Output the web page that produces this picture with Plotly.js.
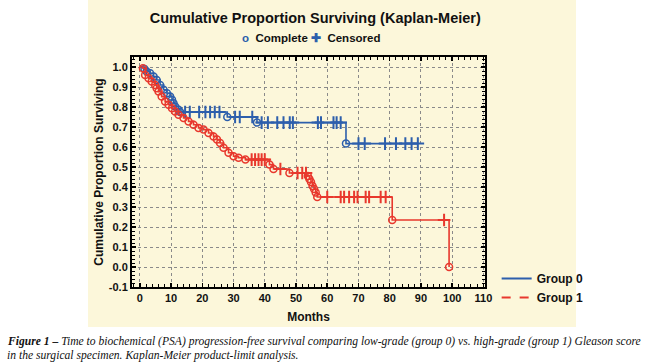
<!DOCTYPE html>
<html>
<head>
<meta charset="utf-8">
<script src="https://cdn.plot.ly/plotly-3.0.1.min.js"></script>
<style>html,body{margin:0;padding:0;background:#fff;}#chart{width:650px;height:363px;}</style>
</head>
<body>
<div id="chart"></div>
<script>
// ---- Data (months, cumulative proportion surviving) ----
const group0EventMonths = [1.5, 2.2, 3.3, 4.4, 5.4, 6.5, 7.6, 8.7, 9.7, 10.3, 10.8, 11.3, 12.4, 12.9, 28.0, 37.5, 66.0];
const group0EventSurv   = [0.990, 0.977, 0.969, 0.952, 0.935, 0.910, 0.886, 0.869, 0.852, 0.836, 0.819, 0.803, 0.786, 0.775, 0.750, 0.722, 0.617];
const group0CensorMonths = [14.5, 16, 19, 21, 22.5, 24, 25.5, 30.5, 32, 36, 39, 41, 44, 46, 48, 49, 57, 58, 62, 63, 64.3, 70, 72, 78.5, 82, 85, 87, 89];

const group1EventMonths = [1.0, 1.7, 2.8, 3.8, 4.9, 5.4, 6.0, 7.0, 8.1, 9.2, 10.3, 11.3, 12.4, 14.0, 15.6, 17.2, 18.8, 20.4, 22.0, 23.6, 24.7, 25.7, 26.8, 28.4, 30.0, 31.6, 33.8, 41.5, 42.8, 47.9, 53.8, 54.3, 54.8, 55.3, 55.8, 56.3, 56.8, 80.8, 99.0];
const group1EventSurv   = [0.994, 0.960, 0.944, 0.927, 0.910, 0.894, 0.877, 0.852, 0.827, 0.811, 0.794, 0.778, 0.761, 0.745, 0.728, 0.711, 0.695, 0.687, 0.670, 0.653, 0.637, 0.620, 0.596, 0.571, 0.554, 0.546, 0.537, 0.512, 0.490, 0.470, 0.455, 0.440, 0.425, 0.405, 0.390, 0.372, 0.350, 0.235, 0.0];
const group1CensorMonths = [35.8, 36.9, 38, 39, 40, 45, 50.5, 52, 53.2, 60, 64.3, 65.4, 67, 68.6, 69.7, 72.3, 73.4, 77.1, 78.7, 97.4];

const groupNames = ['Group 0', 'Group 1'];
const xTickValues = [0, 10, 20, 30, 40, 50, 60, 70, 80, 90, 100, 110];
const yTickValues = [-0.1, 0.0, 0.1, 0.2, 0.3, 0.4, 0.5, 0.6, 0.7, 0.8, 0.9, 1.0];

const BLUE = '#2d5fac';
const RED = '#e8382d';

// Build Kaplan-Meier step curve and censor positions from events/censors
function buildCurve(evT, evS, cT) {
  const items = [];
  evT.forEach((t, i) => items.push({t: t, s: evS[i], ev: true}));
  cT.forEach(t => items.push({t: t, ev: false}));
  items.sort((a, b) => a.t - b.t || (a.ev ? -1 : 1));
  let cur = 1.0;
  const lx = [0], ly = [1.0], cx = [], cy = [];
  items.forEach(it => {
    if (it.ev) { cur = it.s; lx.push(it.t); ly.push(cur); }
    else { lx.push(it.t); ly.push(cur); cx.push(it.t); cy.push(cur); }
  });
  return {lx, ly, cx, cy};
}

const c0 = buildCurve(group0EventMonths, group0EventSurv, group0CensorMonths);
const c1 = buildCurve(group1EventMonths, group1EventSurv, group1CensorMonths);

function tracesFor(c, evT, evS, color) {
  return [
    {x: c.lx, y: c.ly, mode: 'lines', line: {color: color, width: 1.6, shape: 'hv'}, showlegend: false, hoverinfo: 'skip'},
    {x: evT, y: evS, mode: 'markers', marker: {symbol: 'circle-open', size: 7, color: color, line: {width: 1.5, color: color}}, showlegend: false},
    {x: c.cx, y: c.cy, mode: 'markers', marker: {symbol: 'cross-thin-open', size: 9, color: color, line: {width: 2, color: color}}, showlegend: false}
  ];
}

const data = [
  ...tracesFor(c0, group0EventMonths, group0EventSurv, BLUE),
  ...tracesFor(c1, group1EventMonths, group1EventSurv, RED),
  {x: [null], y: [null], mode: 'lines', name: groupNames[0], line: {color: BLUE, width: 2}},
  {x: [null], y: [null], mode: 'lines', name: groupNames[1], line: {color: RED, width: 2, dash: 'dash'}}
];

const boldFont = {family: 'Liberation Sans, Arial, sans-serif', size: 11, color: '#111', weight: 'bold'};

const layout = {
  width: 650, height: 363,
  margin: {l: 132, r: 165, t: 57, b: 76},
  paper_bgcolor: '#ffffff',
  plot_bgcolor: '#ffffff',
  showlegend: true,
  title: {
    text: 'Cumulative Proportion Surviving (Kaplan-Meier)',
    font: {family: 'Liberation Sans, Arial, sans-serif', size: 14.5, color: '#111', weight: 'bold'},
    x: 0.485, xanchor: 'center', y: 0.95, yanchor: 'middle'
  },
  xaxis: {
    range: [-2.5, 110.5], tickvals: xTickValues, ticktext: xTickValues.map(String),
    showline: true, linecolor: '#000', linewidth: 2, mirror: 'ticks',
    ticks: 'inside', ticklen: 4, tickwidth: 1.5, tickcolor: '#000',
    minor: {ticks: 'inside', dtick: 2, tick0: 0, ticklen: 3, tickwidth: 1, tickcolor: '#000', showgrid: false},
    showgrid: true, gridcolor: '#8a8a8a', griddash: 'dot', gridwidth: 1,
    zeroline: false, tickfont: boldFont,
    title: {text: 'Months', font: {family: 'Liberation Sans, Arial, sans-serif', size: 12, color: '#111', weight: 'bold'}, standoff: 9}
  },
  yaxis: {
    range: [-0.1, 1.05], tickvals: yTickValues, ticktext: yTickValues.map(v => v.toFixed(1)),
    showline: true, linecolor: '#000', linewidth: 2, mirror: 'ticks',
    ticks: 'inside', ticklen: 4, tickwidth: 1.5, tickcolor: '#000',
    minor: {ticks: 'inside', dtick: 0.02, tick0: 0, ticklen: 3, tickwidth: 1, tickcolor: '#000', showgrid: false},
    showgrid: true, gridcolor: '#8a8a8a', griddash: 'dot', gridwidth: 1,
    zeroline: false, tickfont: boldFont,
    title: {text: 'Cumulative Proportion Surviving', font: {family: 'Liberation Sans, Arial, sans-serif', size: 12, color: '#111', weight: 'bold'}, standoff: 3}
  },
  legend: {
    x: 1.033, y: 0.1, xanchor: 'left', yanchor: 'top',
    bgcolor: 'rgba(0,0,0,0)', borderwidth: 0,
    font: {family: 'Liberation Sans, Arial, sans-serif', size: 12, color: '#111', weight: 'bold'},
    itemwidth: 30, tracegroupgap: 0
  },
  shapes: [
    {type: 'rect', xref: 'paper', yref: 'paper', x0: -0.1246, x1: 1.2578, y0: -0.174, y1: 1.26,
     fillcolor: '#fcf7da', line: {width: 0}, layer: 'below'}
  ],
  annotations: [
    {xref: 'paper', yref: 'paper', x: 0.5071, y: 1.0826, xanchor: 'center', yanchor: 'middle', showarrow: false,
     text: '<span style="color:' + BLUE + '">o</span>  Complete <span style="color:' + BLUE + '">✚</span>  Censored',
     font: {family: 'Liberation Sans, Arial, sans-serif', size: 11.5, color: '#111', weight: 'bold'}},
    {xref: 'paper', yref: 'paper', x: -0.36, y: -0.2348, xanchor: 'left', yanchor: 'middle', showarrow: false, align: 'left',
     text: '<b><i>Figure 1 –</i></b><i> Time to biochemical (PSA) progression-free survival comparing low-grade (group 0) vs. high-grade (group 1) Gleason score</i>',
     font: {family: 'Liberation Serif, Times New Roman, serif', size: 11.6, color: '#111'}},
    {xref: 'paper', yref: 'paper', x: -0.36, y: -0.2957, xanchor: 'left', yanchor: 'middle', showarrow: false, align: 'left',
     text: '<i>in the surgical specimen. Kaplan-Meier product-limit analysis.</i>',
     font: {family: 'Liberation Serif, Times New Roman, serif', size: 11.6, color: '#111'}}
  ]
};

Plotly.newPlot('chart', data, layout, {displayModeBar: false, staticPlot: true});
</script>
</body>
</html>
